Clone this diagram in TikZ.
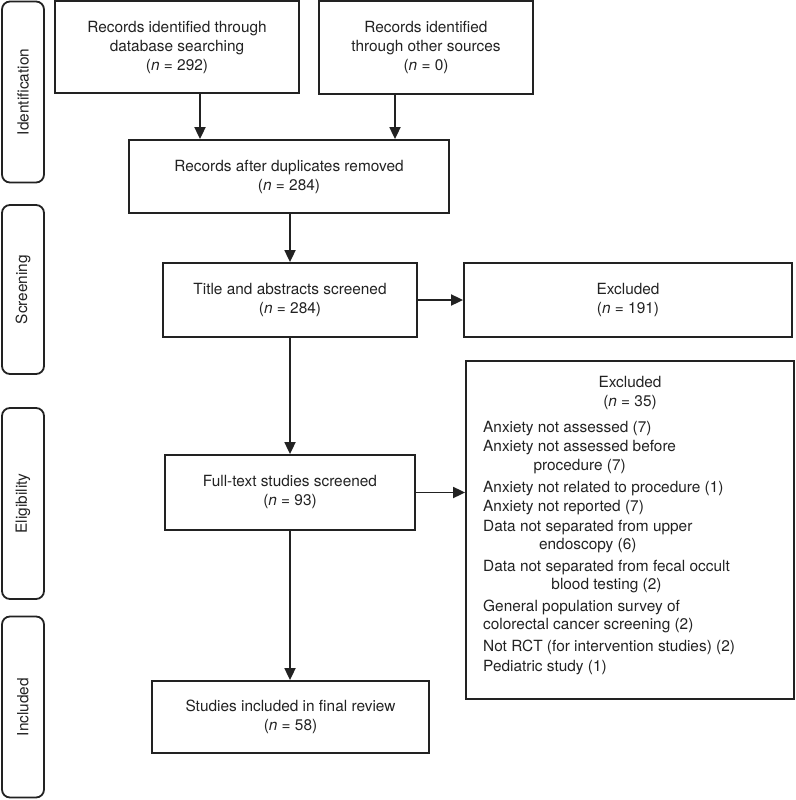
\documentclass[tikz,border=0pt]{standalone}
\usepackage{fontspec}
\setmainfont{TeX Gyre Heros}
\usetikzlibrary{arrows.meta}
\newcommand\diagfont{\fontsize{15.4}{19}\selectfont}
\definecolor{ink}{HTML}{222222}
\begin{document}
\begin{tikzpicture}[x=1pt,y=-1pt,
  box/.style={draw=ink, line width=1.8pt, inner sep=0pt, align=center, font=\diagfont, text=ink},
  side/.style={draw=ink, line width=1.8pt, rounded corners=8pt, inner sep=0pt, minimum width=42pt, font=\diagfont, text=ink},
  lbl/.style={font=\diagfont, text=ink, inner sep=0pt},
  arr/.style={draw=ink, line width=1.8pt, -{Triangle[length=12pt,width=11pt]}}]
\useasboundingbox (0,0) rectangle (795,800);

% side labels
\node[side, minimum height=181pt] (sid) at (23,92) {};
\node[lbl, rotate=90] (tid) at (sid.center) {Identification};
\node[side, minimum height=169pt] (ssc) at (23,289.5) {};
\node[lbl, rotate=90] (tsc) at (ssc.center) {Screening};
\node[side, minimum height=191pt] (sel) at (23,503.5) {};
\node[lbl, rotate=90] (tel) at (sel.center) {Eligibility};
\node[side, minimum height=181pt] (sin) at (23,707) {};
\node[lbl, rotate=90] (tin) at (sin.center) {Included};

% boxes
\node[box, minimum width=244pt, minimum height=92pt] (db) at (177,47) {Records identified through\\database searching\\(\textit{n} = 292)};
\node[box, minimum width=214pt, minimum height=93pt] (oth) at (426,47.5) {Records identified\\through other sources\\(\textit{n} = 0)};
\node[box, minimum width=320pt, minimum height=73pt] (dup) at (289,176.5) {Records after duplicates removed\\(\textit{n} = 284)};
\node[box, minimum width=254pt, minimum height=74pt] (tas) at (290,300) {Title and abstracts screened\\(\textit{n} = 284)};
\node[box, minimum width=328pt, minimum height=74pt] (ex1) at (628,300) {Excluded\\(\textit{n} = 191)};
\node[box, minimum width=250pt, minimum height=75pt] (fts) at (290,492.5) {Full-text studies screened\\(\textit{n} = 93)};
\node[box, minimum width=328pt, minimum height=338pt] (ex2) at (630,530) {};
\node[box, minimum width=277pt, minimum height=72pt] (inc) at (290.5,717) {Studies included in final review\\(\textit{n} = 58)};

% excluded list
\node[lbl, align=center] (exh) at (630,393.5) {Excluded\\(\textit{n} = 35)};
\node[lbl, anchor=base west] (e1) at (483,432) {Anxiety not assessed (7)};
\node[lbl, anchor=base west] (e2) at (483,451) {Anxiety not assessed before};
\node[lbl, anchor=base] (e2b) at ([yshift=-19pt]e2.base) {procedure (7)};
\node[lbl, anchor=base west] (e3) at (483,492) {Anxiety not related to procedure (1)};
\node[lbl, anchor=base west] (e4) at (483,511) {Anxiety not reported (7)};
\node[lbl, anchor=base west] (e5) at (483,531) {Data not separated from upper};
\node[lbl, anchor=base] (e5b) at ([yshift=-18pt]e5.base) {endoscopy (6)};
\node[lbl, anchor=base west] (e6) at (483,571) {Data not separated from fecal occult};
\node[lbl, anchor=base] (e6b) at ([yshift=-18pt]e6.base) {blood testing (2)};
\node[lbl, anchor=base west] (e7) at (483,611) {General population survey of};
\node[lbl, anchor=base west] (e7b) at (483,629) {colorectal cancer screening (2)};
\node[lbl, anchor=base west] (e8) at (483,651) {Not RCT (for intervention studies) (2)};
\node[lbl, anchor=base west] (e9) at (483,671) {Pediatric study (1)};

% arrow columns
\coordinate (c1) at (200,0);
\coordinate (c2) at (395,0);
\coordinate (c3) at (290,0);

\draw[arr] (db.south -| c1) -- (dup.north -| c1);
\draw[arr] (oth.south -| c2) -- (dup.north -| c2);
\draw[arr] (dup.south -| c3) -- (tas.north -| c3);
\draw[arr] (tas.east) -- (ex1.west);
\draw[arr] (tas.south -| c3) -- (fts.north -| c3);
\draw[arr] (fts.east) -- (fts.east -| ex2.west);
\draw[arr] (fts.south -| c3) -- (inc.north -| c3);
\end{tikzpicture}
\end{document}
